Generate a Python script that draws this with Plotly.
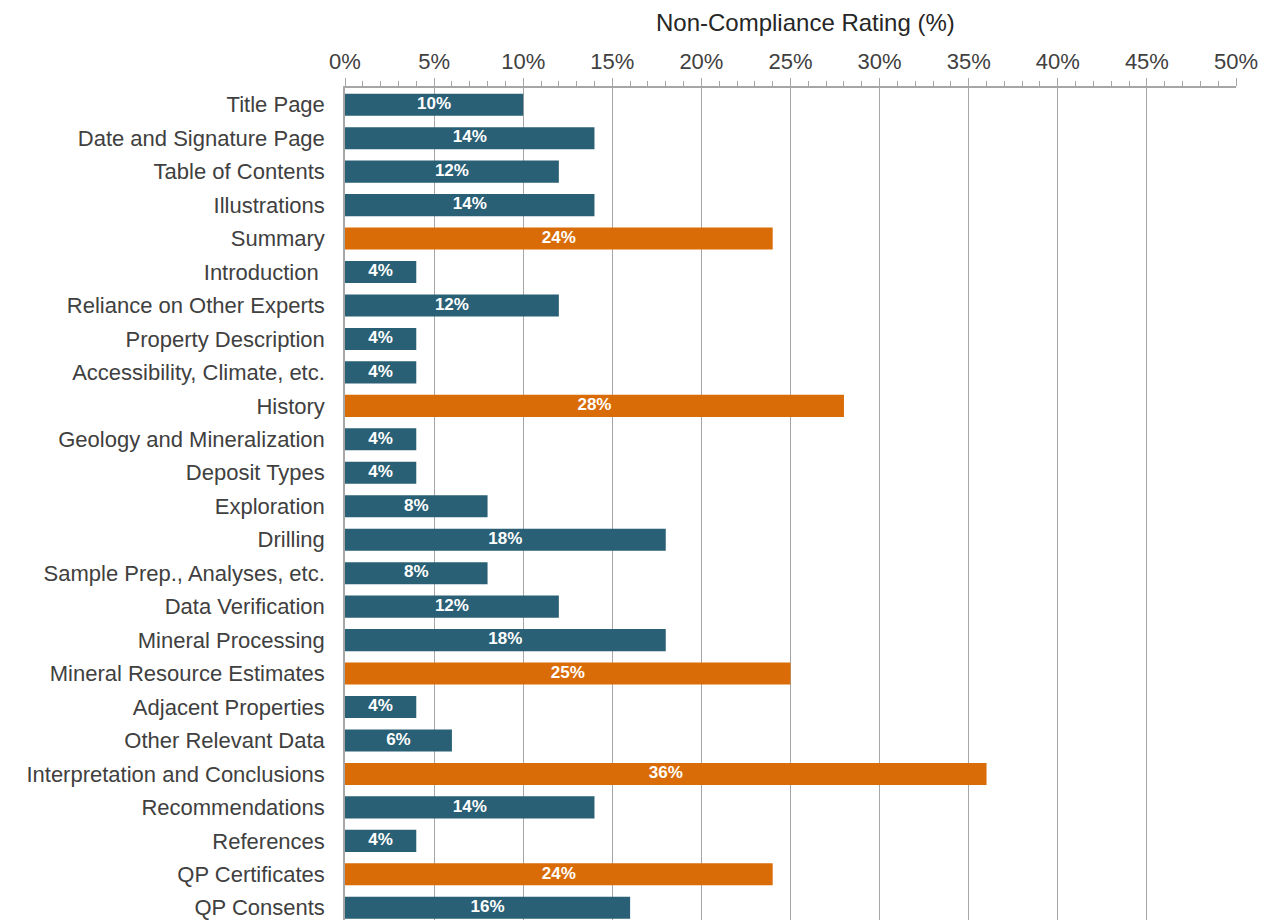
import plotly.graph_objects as go

categories = [
    "Title Page", "Date and Signature Page", "Table of Contents", "Illustrations",
    "Summary", "Introduction\u00a0", "Reliance on Other Experts", "Property Description",
    "Accessibility, Climate, etc.", "History", "Geology and Mineralization",
    "Deposit Types", "Exploration", "Drilling", "Sample Prep., Analyses, etc.",
    "Data Verification", "Mineral Processing", "Mineral Resource Estimates",
    "Adjacent Properties", "Other Relevant Data", "Interpretation and Conclusions",
    "Recommendations", "References", "QP Certificates", "QP Consents",
]
values = [10, 14, 12, 14, 24, 4, 12, 4, 4, 28, 4, 4, 8, 18, 8, 12, 18, 25, 4, 6, 36, 14, 4, 24, 16]
highlight = [False, False, False, False, True, False, False, False, False, True,
             False, False, False, False, False, False, False, True, False, False,
             True, False, False, True, False]

TEAL = "#2a6075"
ORANGE = "#d96c06"
colors = [ORANGE if h else TEAL for h in highlight]
labels = [f"{v}%" for v in values]

FONT = "Liberation Sans, Arial, sans-serif"

fig = go.Figure()
fig.add_trace(go.Bar(
    x=values, y=categories, orientation="h",
    marker=dict(color=colors, line=dict(width=0)),
    textposition="none", hoverinfo="skip",
))
# value labels centred inside each bar (kept at full size, not shrunk to fit)
fig.add_trace(go.Scatter(
    x=[v / 2 for v in values], y=categories, mode="text",
    text=labels, textposition="middle center",
    textfont=dict(family=FONT, size=17, color="white", weight="bold"),
    hoverinfo="skip", cliponaxis=False,
))

W, H = 1267, 920
top, left, right = 88, 345, 31
cat_px = 33.46
n_vis = (H - top) / cat_px

fig.update_layout(
    width=W, height=H,
    margin=dict(l=left, r=right, t=top, b=0, pad=0),
    paper_bgcolor="white", plot_bgcolor="white",
    bargap=0.34, showlegend=False,
    font=dict(family=FONT, color="#404040"),
)
fig.update_xaxes(
    side="top", range=[0, 50], dtick=5, ticksuffix="%",
    showgrid=True, gridcolor="#a6a6a6", gridwidth=1,
    showline=True, linecolor="#a6a6a6", linewidth=1.5,
    ticks="outside", ticklen=8, tickcolor="#a6a6a6", tickwidth=1,
    minor=dict(dtick=1, ticks="outside", ticklen=5, tickcolor="#a6a6a6", showgrid=False),
    tickfont=dict(size=22, color="#404040"),
    ticklabelstandoff=0, zeroline=False, fixedrange=True,
)
fig.update_yaxes(
    range=[n_vis - 0.5, -0.5], type="category",
    showline=True, linecolor="#a6a6a6", linewidth=1.5,
    showgrid=False, ticks="", tickfont=dict(size=22, color="#404040"),
    ticklabelstandoff=14, fixedrange=True,
)
fig.add_annotation(
    text="Non-Compliance Rating (%)", xref="paper", yref="paper",
    x=(805 - left) / (W - left - right), y=1, yshift=66, showarrow=False,
    xanchor="center", yanchor="middle",
    font=dict(size=24, color="#262626", family=FONT),
)
fig.write_html(
    "out.html",
    config={"displayModeBar": False},
    post_script="document.body.style.margin='0';document.body.style.padding='0';",
)
